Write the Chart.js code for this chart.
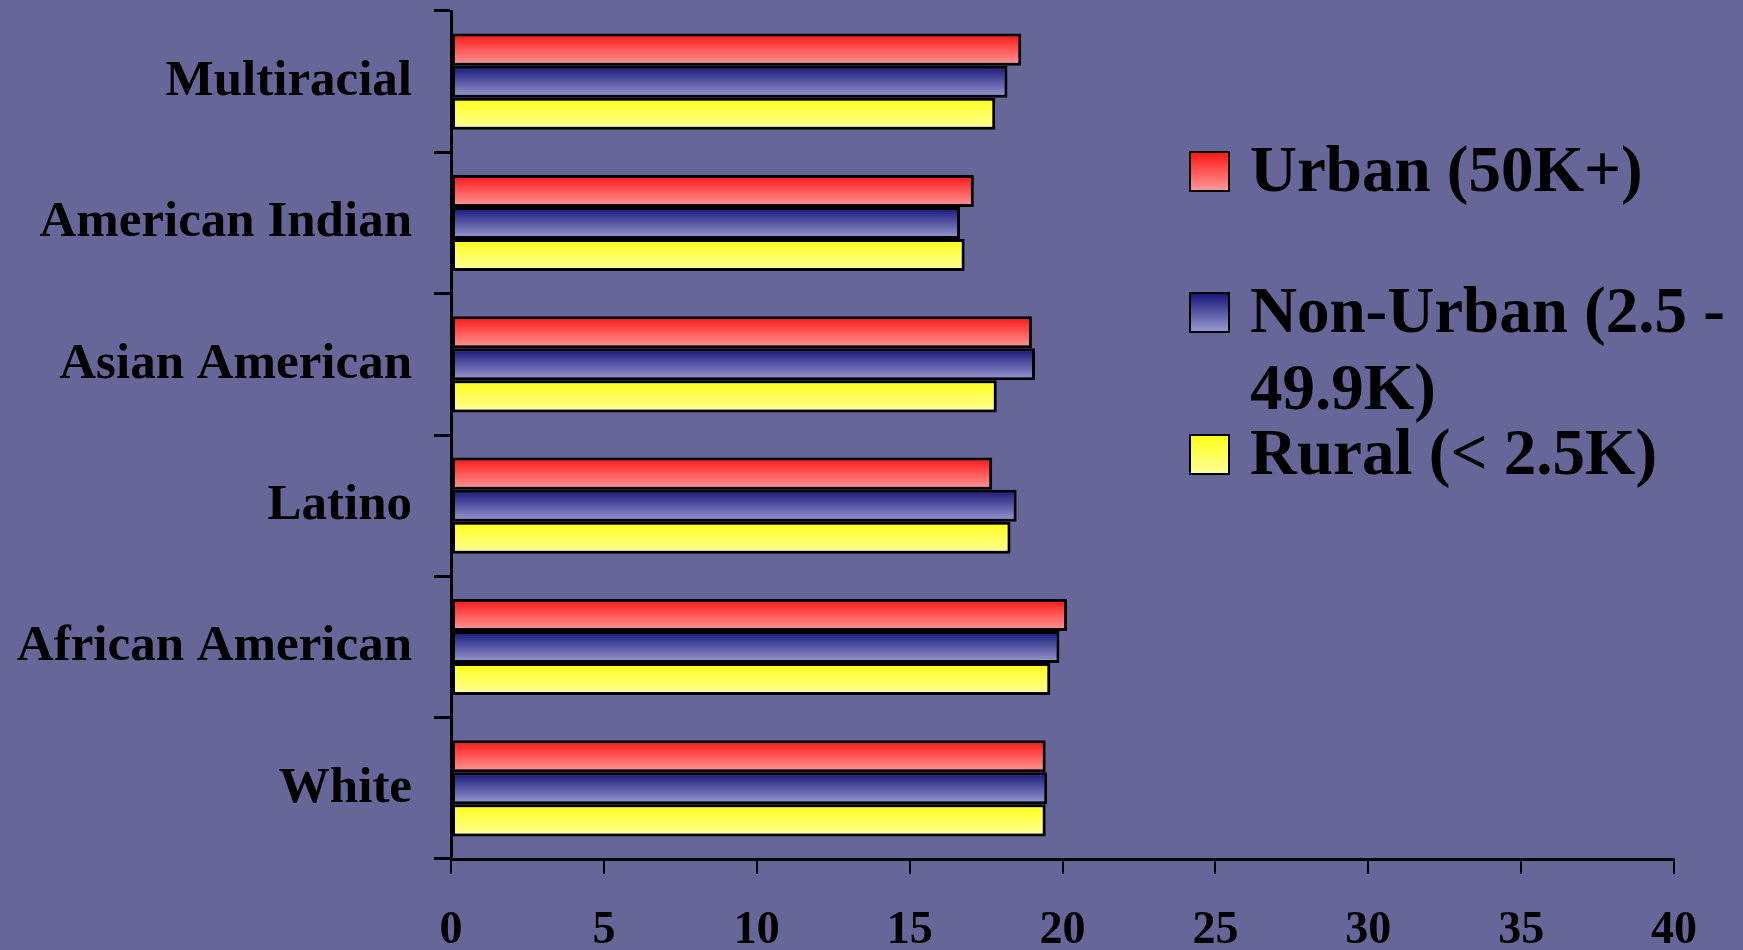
<!DOCTYPE html>
<html>
<head>
<meta charset="utf-8">
<title>Community size by race</title>
<script src="https://cdn.jsdelivr.net/npm/chart.js@4.4.1/dist/chart.umd.min.js"></script>
<style>
  html, body { margin: 0; padding: 0; background: #666699; }
  #wrap { width: 1743px; height: 950px; position: relative; }
  canvas { display: block; }
</style>
</head>
<body>
<div id="wrap"><canvas id="chart" width="1743" height="950"></canvas></div>
<script>
// Categories, top to bottom
const categories = ['Multiracial', 'American Indian', 'Asian American', 'Latino', 'African American', 'White'];

// Series names
const seriesNames = ['Urban (50K+)', 'Non-Urban (2.5 - 49.9K)', 'Rural (< 2.5K)'];

// Series values
const urban    = [18.65, 17.1, 19.0, 17.7, 20.15, 19.45];
const nonUrban = [18.2, 16.65, 19.1, 18.5, 19.9, 19.5];
const rural    = [17.8, 16.8, 17.85, 18.3, 19.6, 19.45];

// Value axis tick labels
const xTicks = [0, 5, 10, 15, 20, 25, 30, 35, 40];

// Vertical gradient (top colour, bottom colour) for each series
const fills = [
  ['#ff1414', '#ff9a9a'],
  ['#141478', '#9c9cd2'],
  ['#ffff14', '#ffff9c']
];

const serif = "'Liberation Serif', 'Times New Roman', serif";

// Gives each bar its own top-to-bottom gradient once the bars are laid out
const barGradient = {
  id: 'barGradient',
  beforeDatasetsDraw(chart) {
    const ctx = chart.ctx;
    chart.data.datasets.forEach((ds, i) => {
      const meta = chart.getDatasetMeta(i);
      meta.data.forEach(el => {
        const top = el.y - el.height / 2;
        const bot = el.y + el.height / 2;
        const g = ctx.createLinearGradient(0, top, 0, bot);
        g.addColorStop(0, fills[i][0]);
        g.addColorStop(1, fills[i][1]);
        el.options = Object.assign({}, el.options, { backgroundColor: g });
      });
    });
  }
};

// Legend drawn on the right side, over the empty part of the plot
const sideLegend = {
  id: 'sideLegend',
  afterDraw(chart) {
    const ctx = chart.ctx;
    const boxX = 1190, boxSize = 39, textX = 1250;
    const fontSize = 65, lineGap = 77;
    const baselines = [191, 332, 474];
    const maxWidth = chart.width - textX;
    ctx.save();
    ctx.font = `bold ${fontSize}px ${serif}`;
    ctx.textBaseline = 'alphabetic';
    ctx.textAlign = 'left';
    chart.data.datasets.forEach((ds, i) => {
      const base = baselines[i];
      // swatch
      const top = base - boxSize;
      const g = ctx.createLinearGradient(0, top, 0, top + boxSize);
      g.addColorStop(0, fills[i][0]);
      g.addColorStop(1, fills[i][1]);
      ctx.fillStyle = g;
      ctx.fillRect(boxX, top, boxSize, boxSize);
      ctx.strokeStyle = '#000';
      ctx.lineWidth = 2;
      ctx.strokeRect(boxX, top, boxSize, boxSize);
      // wrapped label
      const words = ds.label.split(' ');
      const lines = [];
      let line = '';
      words.forEach(w => {
        const test = line ? line + ' ' + w : w;
        if (line && ctx.measureText(test).width > maxWidth) {
          lines.push(line);
          line = w;
        } else {
          line = test;
        }
      });
      if (line) lines.push(line);
      ctx.fillStyle = '#000';
      lines.forEach((l, k) => ctx.fillText(l, textX, base + k * lineGap));
    });
    ctx.restore();
  }
};

const seriesValues = [urban, nonUrban, rural];

new Chart(document.getElementById('chart'), {
  type: 'bar',
  data: {
    labels: categories,
    datasets: seriesNames.map((name, i) => ({
      label: name,
      data: seriesValues[i],
      backgroundColor: fills[i][0],
      borderColor: '#000',
      borderWidth: 3,
      borderSkipped: false,
      barPercentage: 1.0,
      categoryPercentage: 0.68
    }))
  },
  options: {
    indexAxis: 'y',
    responsive: false,
    animation: false,
    devicePixelRatio: 1,
    layout: { padding: { top: 11, right: 69, left: 0, bottom: 0 } },
    plugins: {
      legend: { display: false },
      tooltip: { enabled: false }
    },
    scales: {
      x: {
        type: 'linear',
        min: 0,
        max: 40,
        afterBuildTicks: s => { s.ticks = xTicks.map(v => ({ value: v })); },
        afterFit: s => { s.height = 91; s.paddingLeft = 0; s.paddingRight = 0; },
        grid: { drawOnChartArea: false, drawTicks: true, tickLength: 15, color: '#000', lineWidth: 2 },
        border: { display: true, color: '#000', width: 3 },
        ticks: {
          color: '#000',
          padding: 30,
          maxRotation: 0,
          font: { family: serif, size: 46, weight: 'bold' }
        }
      },
      y: {
        type: 'category',
        offset: true,
        afterFit: s => { s.width = 451; s.paddingTop = 0; s.paddingBottom = 0; },
        grid: { offset: true, drawOnChartArea: false, drawTicks: true, tickLength: 17, color: '#000', lineWidth: 3 },
        border: { display: true, color: '#000', width: 3 },
        ticks: {
          color: '#000',
          padding: 22,
          font: { family: serif, size: 51, weight: 'bold' }
        }
      }
    }
  },
  plugins: [barGradient, sideLegend]
});
</script>
</body>
</html>
